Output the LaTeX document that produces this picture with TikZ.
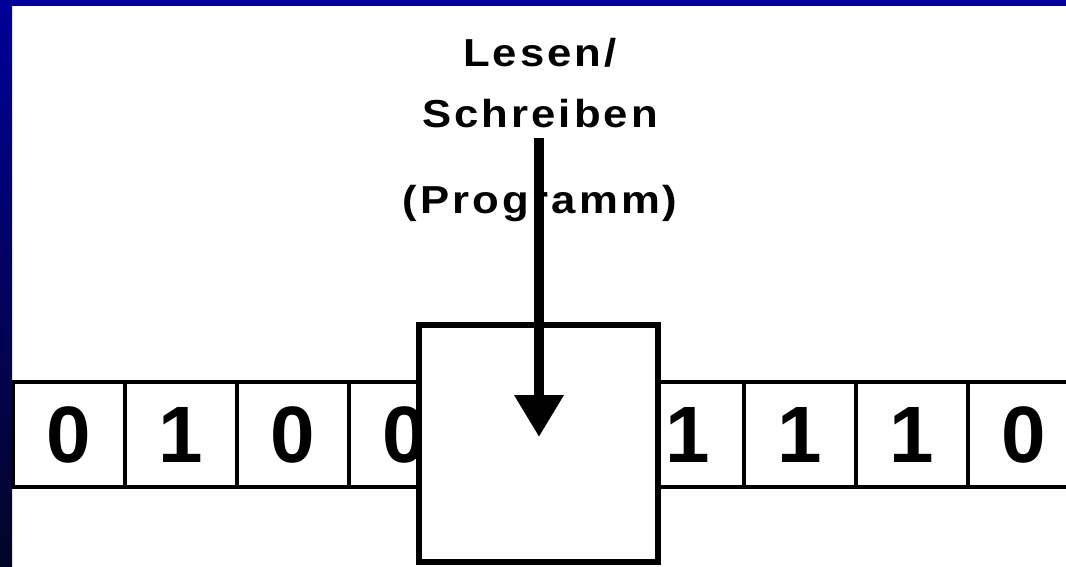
\documentclass[tikz,border=0pt]{standalone}
\usepackage{fontspec}
\setmainfont{Liberation Sans}
\newfontfamily\spacedfont{Liberation Sans}[LetterSpace=7]
\usetikzlibrary{arrows.meta}
\definecolor{frameblue}{RGB}{0,0,153}
\definecolor{framedark}{RGB}{4,4,38}
% caption lettering: slightly widened and tracked
\newcommand{\widecaption}[1]{\scalebox{1.12}[1]{#1}}
\tikzset{
  cell/.style={draw=black, line width=4.5pt, fill=white, inner sep=0pt,
    minimum width=112pt, minimum height=105pt,
    font=\fontsize{80}{80}\selectfont\bfseries},
  headbox/.style={draw=black, line width=6pt, fill=white, inner sep=0pt,
    minimum width=239pt, minimum height=237pt},
  caption/.style={anchor=base, inner sep=0pt,
    font=\fontsize{39}{39}\selectfont\spacedfont\bfseries},
  rwarrow/.style={line width=10pt, -{Triangle[length=42pt,width=47pt]}}
}
\begin{document}
\begin{tikzpicture}[x=1pt,y=-1pt]
\useasboundingbox (0,0) rectangle (1066,566);
\fill[white] (0,0) rectangle (1066,566);

% tape, left part
\node[cell] (l1) at (69,434.5) {0};
\node[cell] (l2) at (181,434.5) {1};
\node[cell] (l3) at (293,434.5) {0};
\node[cell] (l4) at (405,434.5) {0};
% tape, right part
\node[cell] (r1) at (688,434.5) {1};
\node[cell] (r2) at (800,434.5) {1};
\node[cell] (r3) at (912,434.5) {1};
\node[cell] (r4) at (1024,434.5) {0};

% read/write head
\node[headbox] (head) at (538.5,443.5) {};

% labels
\node[caption] (lesen) at (540,66) {\widecaption{Lesen/}};
\node[caption] (schreiben) at (540,127) {\widecaption{Schreiben}};
\node[caption] (programm) at (540,213) {\widecaption{(Programm)}};

% access arrow into the head
\coordinate (feed) at (539,138);
\coordinate (tip) at (539,437);
\draw[rwarrow] (feed) -- (tip);

% slide frame
\shade[top color=frameblue, bottom color=framedark] (0,0) rectangle (12,566);
\fill[frameblue] (0,0) rectangle (1066,6);
\end{tikzpicture}
\end{document}
